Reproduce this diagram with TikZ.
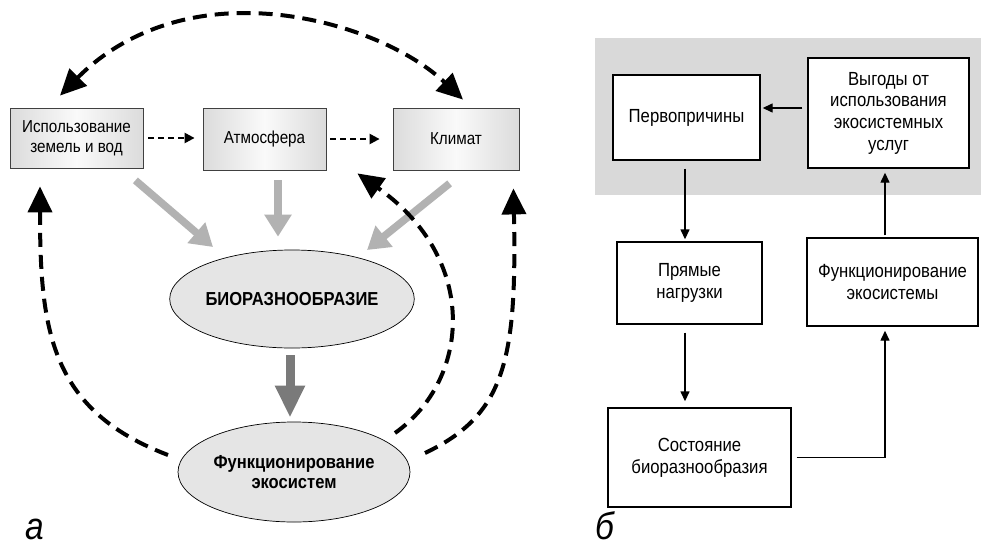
\documentclass[tikz,border=0pt]{standalone}
\usepackage{fontspec}
\setmainfont{Liberation Sans}[FakeStretch=0.88]
\usetikzlibrary{arrows.meta,calc,shapes.geometric}
\tikzset{
  lbox/.style={draw=black!75, line width=0.8pt, left color=black!14, right color=black!14, middle color=black!2,
    minimum width=#1, inner sep=0pt, align=center, font=\fontsize{17.3}{20}\selectfont},
  ell/.style={ellipse, draw=black, line width=0.7pt, fill=black!10, inner sep=0pt, align=center,
    font=\fontsize{18.8}{20.5}\selectfont\bfseries},
  rbox/.style={draw=black, line width=1.4pt, fill=white, inner sep=0pt, align=center,
    font=\fontsize{19}{21.7}\selectfont},
  smalldash/.style={line width=2.2pt, dash pattern=on 6pt off 4pt, -{Triangle[length=10pt,width=10pt]}},
  bigdash/.style={line width=4pt, dash pattern=on 14pt off 8pt},
  greyarr/.style={line width=7.5pt, draw=black!30, -{Triangle[length=22pt,width=26pt]}},
  darkarr/.style={line width=9pt, draw=black!52, -{Triangle[length=32pt,width=28pt]}},
  rarr/.style={line width=1.4pt, -{Triangle[length=10pt,width=9pt]}},
  panel/.style={font=\fontsize{38}{38}\selectfont\itshape, anchor=base, inner sep=0pt}
}
\begin{document}
\begin{tikzpicture}[x=1pt,y=-1pt]
\useasboundingbox[fill=white] (0,0) rectangle (981,546);

% ---------- panel a ----------
\node[lbox=133pt, minimum height=60pt] (b1) at (76.5,138) {Использование\\земель и вод};
\node[lbox=123pt, minimum height=62pt] (b2) at (264.5,139) {Атмосфера};
\node[lbox=126pt, minimum height=62pt] (b3) at (456,139) {Климат};
\node[ell, minimum width=234pt, minimum height=98pt] (bio) at (292,299) {БИОРАЗНООБРАЗИЕ};
\node[ell, minimum width=232pt, minimum height=100pt] (func) at (294,472) {Функционирование\\экосистем};

\draw[smalldash, shorten <=5pt, shorten >=8pt] (b1.east) -- (b1.east -| b2.west);
\draw[smalldash, shorten <=4pt, shorten >=13pt] (b2.east) -- (b2.east -| b3.west);

\draw[greyarr] ($(b1.south east)+(-8,12)$) -- ($(bio.center)+(-79,-52)$);
\draw[greyarr] ($(b2.south)+(13.5,10)$) -- ($(bio.north)+(-14,-13)$);
\draw[greyarr] ($(b3.south west)+(57,13)$) -- ($(bio.center)+(75,-49)$);
\draw[darkarr] ($(bio.south)+(-2,7)$) -- ($(func.north)+(-4,-4)$);

\draw[bigdash, {Triangle[length=26pt,width=24pt]}-{Triangle[length=26pt,width=24pt]}]
  ($(b1.north)+(-16.5,-12)$) .. controls (110,45) and (165,13) .. (245,13)
  .. controls (325,13) and (405,45) .. ($(b3.north)+(7,-8)$);
\draw[bigdash, -{Triangle[length=26pt,width=24pt]}]
  ($(func.center)+(-126,-17)$) .. controls (50,410) and (40,330) .. ($(b1.south)+(-36.5,18)$);
\draw[bigdash, -{Triangle[length=26pt,width=24pt]}]
  ($(func.center)+(101,-39)$) .. controls (470,380) and (480,260) .. ($(b2.south east)+(31,3)$);
\draw[bigdash, -{Triangle[length=26pt,width=24pt]}]
  ($(func.center)+(131,-19)$) .. controls (505,415) and (517,360) .. ($(b3.south east)+(-6,18)$);

\node[panel] (la) at (35,539) {а};

% ---------- panel b ----------
\fill[black!15] (595,38) rectangle (981,195);
\node[rbox, minimum width=147pt, minimum height=85pt] (p1) at (686.5,117.5) {Первопричины};
\node[rbox, minimum width=161pt, minimum height=110pt] (p2) at (888.5,113) {Выгоды от\\использования\\экосистемных\\услуг};
\node[rbox, minimum width=145pt, minimum height=82pt] (p3) at (689.5,283) {Прямые\\нагрузки};
\node[rbox, minimum width=171pt, minimum height=88pt] (p4) at (892.5,282) {Функционирование\\экосистемы};
\node[rbox, minimum width=183pt, minimum height=99pt] (p5) at (699.5,457.5) {Состояние\\биоразнообразия};

\draw[rarr, shorten <=5pt, shorten >=2pt] ([yshift=5pt]p2.west) -- ([yshift=5pt]p2.west -| p1.east);
\draw[rarr, shorten <=8pt, shorten >=2pt] ([xshift=-1.5pt]p1.south) -- ([xshift=-1.5pt]p1.south |- p3.north);
\draw[rarr, shorten <=8pt, shorten >=6pt] ([xshift=-4.5pt]p3.south) -- ([xshift=-4.5pt]p3.south |- p5.north);
\draw[rarr, shorten <=5pt, shorten >=4pt] (p5.east) -| ([xshift=-7.5pt]p4.south);
\draw[rarr, shorten <=2pt, shorten >=4pt] ([xshift=-7.5pt]p4.north) -- ([xshift=-7.5pt]p4.north |- p2.south);

\node[panel] (lb) at (605,539) {б};
\end{tikzpicture}
\end{document}
